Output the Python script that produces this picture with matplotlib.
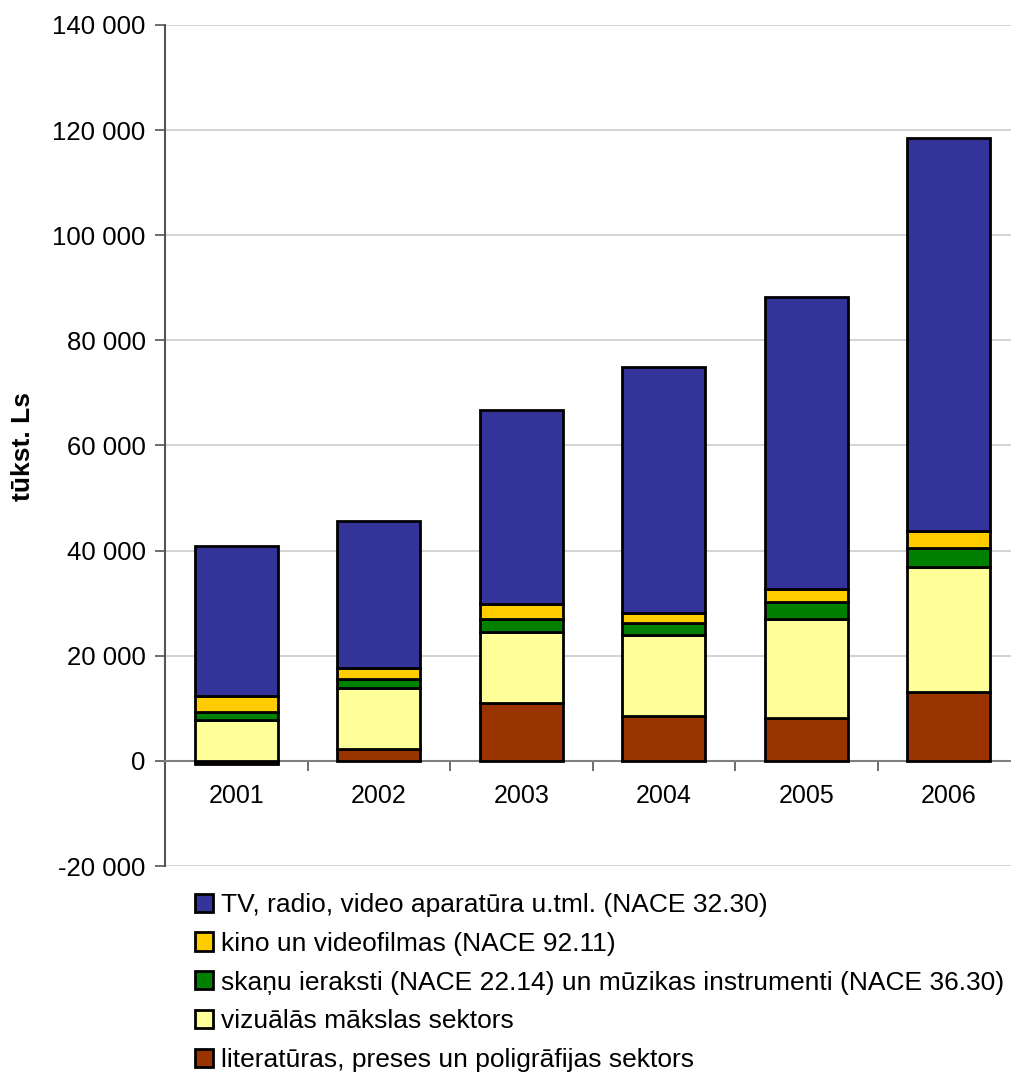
import matplotlib
matplotlib.use("Agg")
import matplotlib.pyplot as plt
import numpy as np
from matplotlib.patches import Patch

plt.rcParams['font.family'] = ['Liberation Sans', 'DejaVu Sans']

years = ["2001", "2002", "2003", "2004", "2005", "2006"]
literatura = [-650, 2300, 11100, 8550, 8200, 13150]
vizuala = [7750, 11600, 13500, 15350, 18850, 23750]
skanu = [1600, 1600, 2400, 2300, 3200, 3550]
kino = [3000, 2100, 2850, 1900, 2500, 3200]
tv = [28550, 28050, 36900, 46900, 55550, 74900]

series = [
    ("literatūras, preses un poligrāfijas sektors", literatura, "#993300"),
    ("vizuālās mākslas sektors", vizuala, "#FFFF99"),
    ("skaņu ieraksti (NACE 22.14) un mūzikas instrumenti (NACE 36.30)", skanu, "#008000"),
    ("kino un videofilmas (NACE 92.11)", kino, "#FFCC00"),
    ("TV, radio, video aparatūra u.tml. (NACE 32.30)", tv, "#333399"),
]

W, H = 1011, 1073
fig = plt.figure(figsize=(W / 100, H / 100), dpi=100)
ax = fig.add_axes([165 / W, 1 - 866 / H, 855 / W, (866 - 25) / H])

x = np.arange(len(years))
pos_bottom = np.zeros(len(years))
neg_bottom = np.zeros(len(years))
for name, vals, col in series:
    v = np.array(vals, dtype=float)
    bottoms = np.where(v >= 0, pos_bottom, neg_bottom)
    ax.bar(x, v, bottom=bottoms, width=0.58, color=col, edgecolor="black",
           linewidth=2.0, zorder=3)
    pos_bottom += np.where(v >= 0, v, 0)
    neg_bottom += np.where(v < 0, v, 0)

ax.set_xlim(-0.5, len(years) - 0.5)
ax.set_ylim(-20000, 140000)
yt = np.arange(-20000, 140001, 20000)
ax.set_yticks(yt)
ax.set_yticklabels([f"{v:,}".replace(",", " ") for v in yt])
ax.yaxis.grid(True, color="#cccccc", linewidth=1.2, zorder=0)
ax.set_axisbelow(True)

ax.set_xticks(np.arange(-0.5, len(years), 1.0))
ax.set_xticklabels([])
ax.set_xticks(x, minor=True)
ax.set_xticklabels(years, minor=True)
ax.tick_params(axis="x", which="minor", length=0, pad=17, labelsize=18)
ax.tick_params(axis="x", which="major", length=7, width=1.2, color="#555555", direction="out")
ax.tick_params(axis="y", length=7, width=1.2, color="#555555", pad=7, labelsize=18.5)

for s in ["top", "right"]:
    ax.spines[s].set_visible(False)
ax.spines["bottom"].set_position(("data", 0))
ax.spines["bottom"].set_color("#808080")
ax.spines["bottom"].set_linewidth(1.5)
ax.spines["left"].set_color("#555555")
ax.spines["left"].set_linewidth(1.5)

fig.text(23 / W, 1 - 446 / H, "tūkst. Ls", rotation=90, fontsize=19,
         fontweight="bold", ha="center", va="center")

handles = [Patch(facecolor=col, edgecolor="black", linewidth=2.0, label=name)
           for name, vals, col in reversed(series)]
fig.legend(handles=handles, loc="upper left", bbox_to_anchor=(195 / W, 1 - 893 / H),
           frameon=False, fontsize=19, handlelength=0.68, handleheight=0.68,
           handletextpad=0.3, labelspacing=0.56, borderpad=0, borderaxespad=0)

fig.savefig("out.png", dpi=100)
